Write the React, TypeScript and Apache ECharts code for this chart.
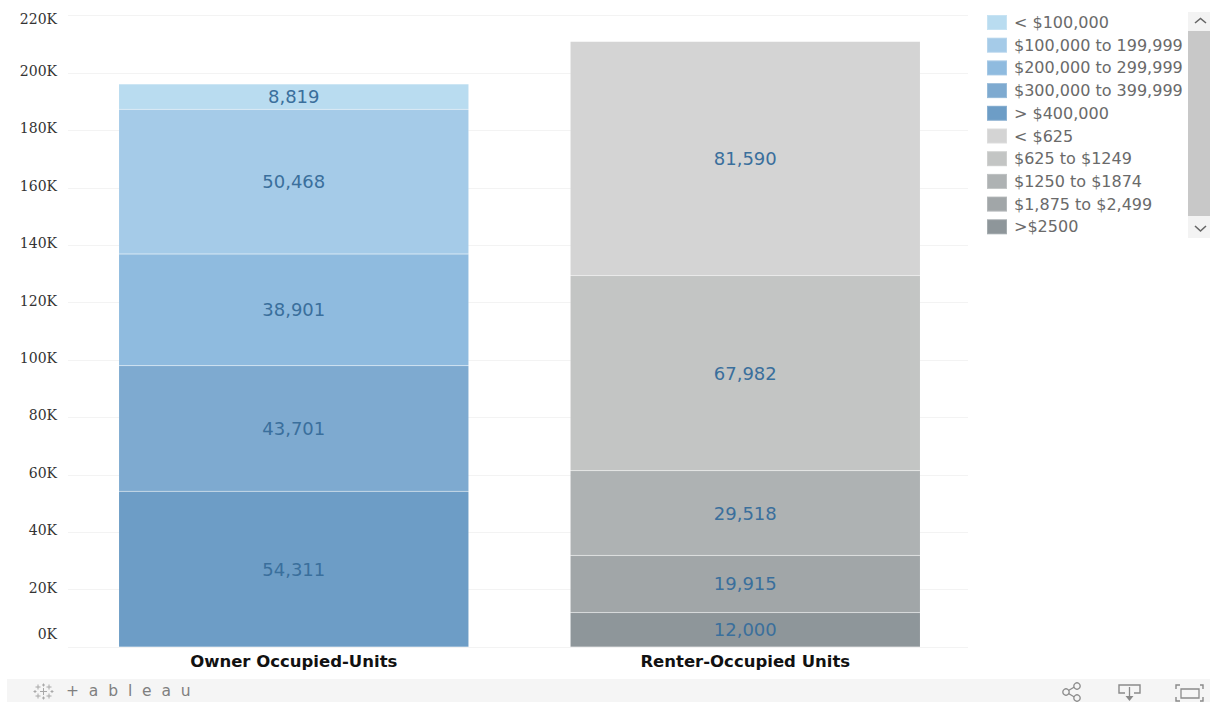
import React, { useEffect, useRef } from "react";
import * as echarts from "echarts";

const categories = ["Owner Occupied-Units", "Renter-Occupied Units"];

const legendOrder = [
  "< $100,000",
  "$100,000 to 199,999",
  "$200,000 to 299,999",
  "$300,000 to 399,999",
  "> $400,000",
  "< $625",
  "$625 to $1249",
  "$1250 to $1874",
  "$1,875 to $2,499",
  ">$2500",
];

// Values per legend entry, in legend order
const ownerValues = [8819, 50468, 38901, 43701, 54311];
const renterValues = [81590, 67982, 29518, 19915, 12000];

const ownerColors = ["#b9dcf0", "#a5cbe8", "#8fbbdf", "#7eaad0", "#6d9dc6"];
const renterColors = ["#d4d4d4", "#c3c5c4", "#aeb2b3", "#a1a6a8", "#8e969a"];

const axisMax = 220000;
const axisStep = 20000;

const ownerNames = legendOrder.slice(0, 5);
const renterNames = legendOrder.slice(5);

// Stacks grow upward, so the last legend entry of each group is drawn first.
const ownerSeries = ownerNames
  .map((name, i) => ({ name, data: [ownerValues[i], null], color: ownerColors[i] }))
  .reverse();
const renterSeries = renterNames
  .map((name, i) => ({ name, data: [null, renterValues[i]], color: renterColors[i] }))
  .reverse();

const iconGrey = "#8a8a8a";
const markGrey = "#a8a8a8";

function line(x1: number, y1: number, x2: number, y2: number, stroke = iconGrey, lineWidth = 1.3) {
  return { type: "line", shape: { x1, y1, x2, y2 }, style: { stroke, lineWidth }, silent: true };
}

function polyline(points: number[][], stroke = iconGrey, lineWidth = 1.4) {
  return { type: "polyline", shape: { points }, style: { stroke, lineWidth, fill: "none" }, silent: true };
}

function ring(cx: number, cy: number, r: number) {
  return {
    type: "circle",
    shape: { cx, cy, r },
    style: { stroke: iconGrey, lineWidth: 1.3, fill: "#f5f5f5" },
    silent: true,
  };
}

// Small plus signs that make up the brand mark in the footer
function cross(cx: number, cy: number, size: number) {
  return [line(cx - size, cy, cx + size, cy, markGrey, 1), line(cx, cy - size, cx, cy + size, markGrey, 1)];
}

const footer = [
  { type: "rect", shape: { x: 7, y: 679, width: 1203, height: 23 }, style: { fill: "#f5f5f5" }, silent: true },
  ...cross(43.5, 691.5, 3.5),
  ...cross(38, 687, 2.5),
  ...cross(49, 687, 2.5),
  ...cross(38, 696, 2.5),
  ...cross(49, 696, 2.5),
  ...cross(43.5, 685, 1.5),
  ...cross(43.5, 698, 1.5),
  ...cross(35, 691.5, 1.5),
  ...cross(52, 691.5, 1.5),
  {
    type: "text",
    x: 66,
    y: 691,
    style: {
      text: "+  a  b  l  e  a  u",
      font: '15.5px "DejaVu Sans"',
      fill: "#7f7f7f",
      verticalAlign: "middle",
      align: "left",
    },
    silent: true,
  },
  // share
  line(1066, 692, 1076, 686),
  line(1066, 692, 1076, 698),
  ring(1066, 692, 3.2),
  ring(1077, 686, 3.2),
  ring(1077, 698, 3.2),
  // download
  polyline([[1125, 693], [1119, 693], [1119, 685], [1140, 685], [1140, 693], [1134, 693]]),
  line(1129.5, 687, 1129.5, 698),
  { type: "polygon", shape: { points: [[1125.5, 696], [1133.5, 696], [1129.5, 701]] }, style: { fill: iconGrey }, silent: true },
  // fullscreen
  { type: "rect", shape: { x: 1181, y: 689, width: 18, height: 9 }, style: { stroke: iconGrey, lineWidth: 1.3, fill: "none" }, silent: true },
  polyline([[1176, 689], [1176, 685], [1180, 685]]),
  polyline([[1200, 685], [1203, 685], [1203, 689]]),
  polyline([[1176, 697], [1176, 701], [1180, 701]]),
  polyline([[1200, 701], [1203, 701], [1203, 697]]),
];

const scrollbar = [
  { type: "rect", shape: { x: 1188, y: 12, width: 23, height: 226 }, style: { fill: "#f3f3f3" }, silent: true },
  { type: "rect", shape: { x: 1188, y: 31, width: 23, height: 185 }, style: { fill: "#c8c8c8" }, silent: true },
  polyline([[1195, 23], [1200.5, 18.5], [1206, 23]], "#666666", 1.6),
  polyline([[1195, 226], [1200.5, 231], [1206, 226]], "#666666", 1.6),
];

// Trims the grid lines short of the band edge on the right
const gridTrim = [
  { type: "rect", z: 100, shape: { x: 968, y: 0, width: 8, height: 650 }, style: { fill: "#ffffff" }, silent: true },
];

export default function App() {
  const ref = useRef<HTMLDivElement>(null);

  useEffect(() => {
    const chart = echarts.init(ref.current!, undefined, { renderer: "svg" });
    const toSeries = (s: { name: string; data: (number | null)[]; color: string }) => ({
      name: s.name,
      type: "bar",
      stack: "units",
      data: s.data,
      barWidth: 350,
      itemStyle: { color: s.color, borderColor: "rgba(255,255,255,0.2)", borderWidth: 0.5 },
      label: {
        show: true,
        position: "inside",
        color: "#3a6f9c",
        fontFamily: "DejaVu Sans",
        fontSize: 18,
        formatter: (p: { value: number }) => p.value.toLocaleString("en-US"),
      },
    });

    chart.setOption({
      animation: false,
      backgroundColor: "#ffffff",
      grid: { left: 68, right: 239, top: 15.6, bottom: 55, containLabel: false },
      xAxis: {
        type: "category",
        data: categories,
        axisLine: { show: false },
        axisTick: { show: false },
        axisLabel: {
          color: "#111111",
          fontFamily: "DejaVu Sans",
          fontWeight: "bold",
          fontSize: 16.5,
          margin: 6,
        },
      },
      yAxis: {
        type: "value",
        min: 0,
        max: axisMax,
        interval: axisStep,
        axisLine: { show: false },
        axisTick: { show: false },
        splitLine: { lineStyle: { color: "#f3f3f3", width: 1 } },
        axisLabel: {
          color: "#333333",
          fontFamily: "DejaVu Serif",
          fontSize: 14,
          margin: 11,
          lineHeight: 18,
          padding: [0, 0, 4, 0],
          verticalAlignMinLabel: "bottom",
          verticalAlignMaxLabel: "top",
          formatter: (v: number) => (v === axisMax ? `{top|${v / 1000}K}` : `${v / 1000}K`),
          rich: { top: { lineHeight: 7, fontFamily: "DejaVu Serif", fontSize: 14, color: "#333333" } },
        },
      },
      legend: {
        orient: "vertical",
        left: 986,
        top: 14,
        padding: 0,
        itemWidth: 20,
        itemHeight: 15,
        itemGap: 5.7,
        icon: "rect",
        selectedMode: false,
        data: legendOrder,
        textStyle: {
          color: "#6a6a6a",
          fontFamily: "DejaVu Sans",
          fontSize: 16,
          lineHeight: 15,
          padding: [0, 0, 0, 2],
        },
      },
      series: [...ownerSeries.map(toSeries), ...renterSeries.map(toSeries)],
      graphic: { elements: [...gridTrim, ...scrollbar, ...footer] },
    });
    return () => chart.dispose();
  }, []);

  return <div ref={ref} style={{ position: "fixed", left: 0, top: 0, width: 1210, height: 702 }} />;
}
